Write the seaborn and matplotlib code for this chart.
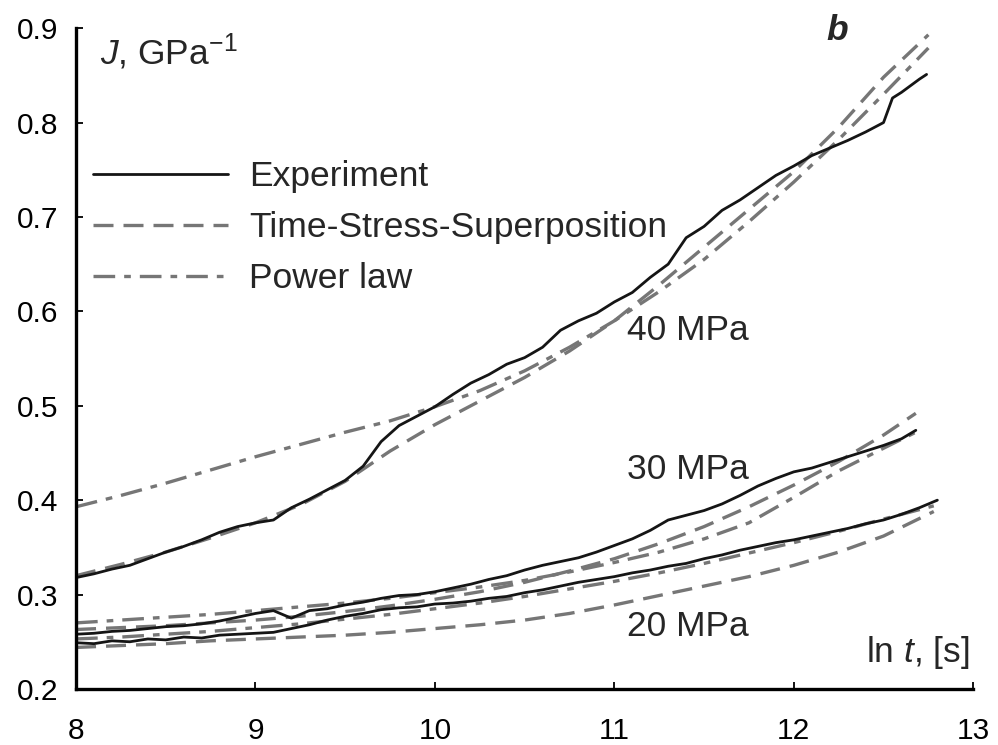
import numpy as np
import pandas as pd
import matplotlib
matplotlib.use("Agg")
import matplotlib.pyplot as plt
import seaborn as sns

# ---- data (ln t vs creep compliance J) ----
x_exp40 = [8.0, 8.1, 8.2, 8.3, 8.4, 8.5, 8.6, 8.7, 8.8, 8.9, 9.0, 9.1, 9.2, 9.3, 9.4, 9.5,
           9.6, 9.7, 9.8, 9.9, 10.0, 10.1, 10.2, 10.3, 10.4, 10.5, 10.6, 10.7, 10.8, 10.9,
           11.0, 11.1, 11.2, 11.3, 11.4, 11.5, 11.6, 11.7, 11.8, 11.9, 12.0, 12.1, 12.2,
           12.3, 12.4, 12.5, 12.55, 12.6, 12.7, 12.74]
j_exp40 = [0.318, 0.322, 0.327, 0.331, 0.338, 0.345, 0.351, 0.358, 0.366, 0.372, 0.376,
           0.379, 0.392, 0.401, 0.411, 0.421, 0.436, 0.462, 0.479, 0.489, 0.499, 0.512,
           0.524, 0.533, 0.544, 0.551, 0.562, 0.580, 0.590, 0.598, 0.610, 0.620, 0.636,
           0.650, 0.678, 0.690, 0.707, 0.718, 0.731, 0.744, 0.754, 0.765, 0.773, 0.781,
           0.790, 0.800, 0.826, 0.832, 0.846, 0.851]

x_exp30 = [8.0, 8.1, 8.2, 8.3, 8.4, 8.5, 8.6, 8.7, 8.8, 8.9, 9.0, 9.1, 9.2, 9.3, 9.4, 9.5,
           9.6, 9.7, 9.8, 9.9, 10.0, 10.1, 10.2, 10.3, 10.4, 10.5, 10.6, 10.7, 10.8, 10.9,
           11.0, 11.1, 11.2, 11.3, 11.4, 11.5, 11.6, 11.7, 11.8, 11.9, 12.0, 12.1, 12.2,
           12.3, 12.4, 12.5, 12.6, 12.68]
j_exp30 = [0.258, 0.259, 0.261, 0.262, 0.264, 0.266, 0.267, 0.269, 0.272, 0.276, 0.280,
           0.283, 0.275, 0.283, 0.285, 0.289, 0.292, 0.296, 0.299, 0.300, 0.303, 0.307,
           0.311, 0.316, 0.320, 0.326, 0.331, 0.335, 0.339, 0.345, 0.352, 0.359, 0.368,
           0.379, 0.384, 0.389, 0.396, 0.405, 0.415, 0.423, 0.430, 0.434, 0.440, 0.446,
           0.452, 0.458, 0.465, 0.474]

x_exp20 = [8.0, 8.1, 8.2, 8.3, 8.4, 8.5, 8.6, 8.7, 8.8, 8.9, 9.0, 9.1, 9.2, 9.3, 9.4, 9.5,
           9.6, 9.7, 9.8, 9.9, 10.0, 10.1, 10.2, 10.3, 10.4, 10.5, 10.6, 10.7, 10.8, 10.9,
           11.0, 11.1, 11.2, 11.3, 11.4, 11.5, 11.6, 11.7, 11.8, 11.9, 12.0, 12.1, 12.2,
           12.3, 12.4, 12.5, 12.6, 12.7, 12.8]
j_exp20 = [0.249, 0.248, 0.251, 0.250, 0.253, 0.252, 0.255, 0.254, 0.257, 0.258, 0.259,
           0.260, 0.264, 0.268, 0.273, 0.277, 0.280, 0.284, 0.286, 0.287, 0.290, 0.291,
           0.293, 0.296, 0.298, 0.302, 0.305, 0.309, 0.313, 0.316, 0.319, 0.323, 0.326,
           0.330, 0.333, 0.338, 0.342, 0.347, 0.351, 0.355, 0.358, 0.362, 0.366, 0.370,
           0.375, 0.379, 0.385, 0.392, 0.400]

# model curves
x_fit = [8.0, 8.25, 8.5, 8.75, 9.0, 9.25, 9.5, 9.75, 10.0, 10.25, 10.5, 10.75, 11.0,
         11.25, 11.5, 11.75, 12.0, 12.25, 12.5]
x_end40, x_end30, x_end20 = 12.75, 12.68, 12.78

j_tss40 = [0.320, 0.332, 0.345, 0.360, 0.376, 0.395, 0.420, 0.452, 0.480, 0.505, 0.530,
           0.558, 0.590, 0.628, 0.668, 0.708, 0.748, 0.795, 0.848, 0.893]
j_pl40 = [0.393, 0.405, 0.418, 0.432, 0.446, 0.459, 0.472, 0.484, 0.499, 0.516, 0.537,
          0.562, 0.590, 0.621, 0.655, 0.695, 0.737, 0.782, 0.830, 0.879]
j_tss30 = [0.263, 0.265, 0.267, 0.270, 0.273, 0.277, 0.282, 0.288, 0.295, 0.303, 0.313,
           0.325, 0.338, 0.354, 0.372, 0.393, 0.416, 0.441, 0.469, 0.492]
j_pl30 = [0.270, 0.273, 0.276, 0.279, 0.283, 0.287, 0.291, 0.296, 0.302, 0.308, 0.315,
          0.324, 0.334, 0.345, 0.359, 0.376, 0.403, 0.431, 0.455, 0.472]
j_tss20 = [0.244, 0.246, 0.248, 0.251, 0.253, 0.255, 0.257, 0.260, 0.264, 0.268, 0.273,
           0.280, 0.289, 0.299, 0.309, 0.319, 0.331, 0.345, 0.362, 0.388]
j_pl20 = [0.253, 0.255, 0.258, 0.261, 0.265, 0.269, 0.274, 0.279, 0.285, 0.291, 0.298,
          0.306, 0.314, 0.323, 0.333, 0.344, 0.355, 0.367, 0.380, 0.394]

stress_labels = ["40 MPa", "30 MPa", "20 MPa"]
legend_labels = ["Experiment", "Time-Stress-Superposition", "Power law"]

sns.set_style("ticks")
plt.rcParams["font.family"] = ["Liberation Sans", "DejaVu Sans"]
plt.rcParams["mathtext.fontset"] = "custom"
plt.rcParams["mathtext.rm"] = "Liberation Sans"
plt.rcParams["mathtext.it"] = "Liberation Sans:italic"

BLACK = "#151515"
GRAY = "#767676"
DASHED = (0, (6, 3))
DASHDOT = (0, (6.5, 2.7, 2, 2.7))
FS = 25.5

fig = plt.figure(figsize=(9.98, 7.45), dpi=100)
ax = fig.add_axes([0.0762, 0.0752, 0.899, 0.887])

exp_sets = [(x_exp40, j_exp40), (x_exp30, j_exp30), (x_exp20, j_exp20)]
tss_sets = [(x_fit + [x_end40], j_tss40), (x_fit + [x_end30], j_tss30), (x_fit + [x_end20], j_tss20)]
pl_sets = [(x_fit + [x_end40], j_pl40), (x_fit + [x_end30], j_pl30), (x_fit + [x_end20], j_pl20)]

for i, (xs, js) in enumerate(pl_sets):
    sns.lineplot(x=xs, y=js, ax=ax, color=GRAY, lw=2.4, linestyle=DASHDOT,
                 estimator=None, sort=False, label=legend_labels[2] if i == 0 else None)
for i, (xs, js) in enumerate(tss_sets):
    sns.lineplot(x=xs, y=js, ax=ax, color=GRAY, lw=2.4, linestyle=DASHED,
                 estimator=None, sort=False, label=legend_labels[1] if i == 0 else None)
for i, (xs, js) in enumerate(exp_sets):
    sns.lineplot(x=xs, y=js, ax=ax, color=BLACK, lw=2.0,
                 estimator=None, sort=False, label=legend_labels[0] if i == 0 else None)

ax.set_xlim(8, 13)
ax.set_ylim(0.2, 0.9)
ax.set_xticks([8, 9, 10, 11, 12, 13])
ax.set_yticks([0.2, 0.3, 0.4, 0.5, 0.6, 0.7, 0.8, 0.9])
ax.set_yticklabels(["0.2", "0.3", "0.4", "0.5", "0.6", "0.7", "0.8", "0.9"])
ax.tick_params(direction="in", length=5, width=1.3, labelsize=21.5, colors="black")
ax.tick_params(axis="y", pad=13)
ax.tick_params(axis="x", pad=20)
for side in ["top", "right"]:
    ax.spines[side].set_visible(False)
for side in ["left", "bottom"]:
    ax.spines[side].set_linewidth(2.4)
    ax.spines[side].set_color("black")
ax.set_xlabel("")
ax.set_ylabel("")

# legend in the original order
h, l = ax.get_legend_handles_labels()
order = [l.index(n) for n in legend_labels]
ax.legend([h[k] for k in order], [l[k] for k in order], loc="upper left",
          bbox_to_anchor=(0.019, 0.80), frameon=False, fontsize=FS,
          handlelength=3.8, handletextpad=0.6, labelspacing=0.51,
          borderaxespad=0, borderpad=0)

ax.text(8.134, 0.875, "$J$, GPa$^{-1}$", fontsize=FS, va="center", ha="left")
ax.text(12.24, 0.897, "b", fontsize=FS, fontweight="bold", fontstyle="italic",
        va="center", ha="center")
for lab, yy in zip(stress_labels, [0.580, 0.432, 0.266]):
    ax.text(11.07, yy, lab, fontsize=FS, va="center", ha="left")
ax.text(12.98, 0.239, "ln $t$, [s]", fontsize=FS, va="center", ha="right")

fig.savefig("out.png", dpi=100)
